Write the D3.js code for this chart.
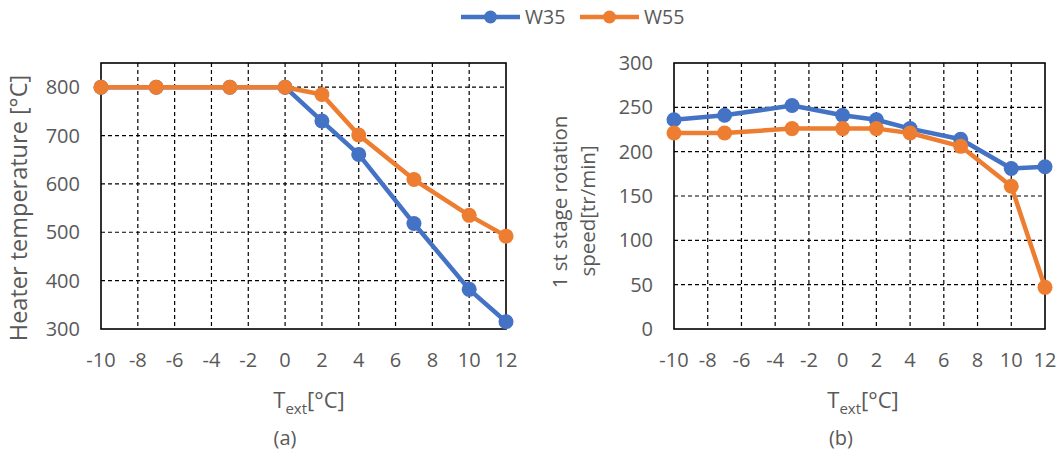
<!DOCTYPE html>
<html>
<head>
<meta charset="utf-8">
<script src="https://cdn.jsdelivr.net/npm/d3@7"></script>
<style>
  body { margin: 0; background: #fff; }
  text { font-family: "Open Sans", sans-serif; fill: #595959; }
</style>
</head>
<body>
<div id="chart"></div>
<script>
const W = 1062, H = 454;

// x values (outside temperature, °C)
const text = [-10, -7, -3, 0, 2, 4, 7, 10, 12];
const xTicks = [-10, -8, -6, -4, -2, 0, 2, 4, 6, 8, 10, 12];

// (a) heater temperature
const heaterW35 = [800, 800, 800, 800, 730, 661, 518, 382, 315];
const heaterW55 = [800, 800, 800, 800, 785, 701, 609, 535, 492];
const heaterTicks = [300, 400, 500, 600, 700, 800];

// (b) 1st stage rotation speed
const speedW35 = [236, 241, 252, 241, 236, 226, 214, 181, 183];
const speedW55 = [221, 221, 226, 226, 226, 221, 206, 161, 47];
const speedTicks = [0, 50, 100, 150, 200, 250, 300];

const series = ["W35", "W55"];
const colors = { W35: "#4472C4", W55: "#ED7D31" };

const svg = d3.select("#chart").append("svg")
  .attr("width", W)
  .attr("height", H);

function panel(opt) {
  const x = d3.scaleLinear().domain([-10, 12]).range([opt.x0, opt.x1]);
  const y = d3.scaleLinear().domain(opt.yDomain).range([opt.y1, opt.y0]);
  const g = svg.append("g");

  // dashed grid
  g.selectAll("line.vg")
    .data(xTicks.slice(1, -1))
    .enter().append("line")
    .attr("x1", d => x(d)).attr("x2", d => x(d))
    .attr("y1", opt.y0).attr("y2", opt.y1)
    .attr("stroke", "#000").attr("stroke-width", 1.2)
    .attr("stroke-dasharray", "4,3");
  g.selectAll("line.hg")
    .data(opt.yTicks.filter(d => d !== opt.yDomain[0] && d !== opt.yDomain[1]))
    .enter().append("line")
    .attr("x1", opt.x0).attr("x2", opt.x1)
    .attr("y1", d => y(d)).attr("y2", d => y(d))
    .attr("stroke", "#000").attr("stroke-width", 1.2)
    .attr("stroke-dasharray", "4,3");

  // frame
  g.append("rect")
    .attr("x", opt.x0).attr("y", opt.y0)
    .attr("width", opt.x1 - opt.x0).attr("height", opt.y1 - opt.y0)
    .attr("fill", "none").attr("stroke", "#000").attr("stroke-width", 1.6);

  // tick labels
  g.selectAll("text.xt")
    .data(xTicks)
    .enter().append("text")
    .attr("x", d => x(d)).attr("y", 367)
    .attr("text-anchor", "middle")
    .style("font-size", "20px")
    .text(d => d);
  g.selectAll("text.yt")
    .data(opt.yTicks)
    .enter().append("text")
    .attr("x", opt.x0 - 21).attr("y", d => y(d) + 7)
    .attr("text-anchor", "end")
    .style("font-size", "20px")
    .text(d => d);

  // lines
  const line = d3.line().x((d, i) => x(text[i])).y(d => y(d));
  series.forEach(s => {
    const vals = opt.data[s];
    g.append("path")
      .datum(vals)
      .attr("d", line)
      .attr("fill", "none")
      .attr("stroke", colors[s])
      .attr("stroke-width", 4.5)
      .attr("stroke-linejoin", "round");
    g.selectAll(null)
      .data(vals)
      .enter().append("circle")
      .attr("cx", (d, i) => x(text[i]))
      .attr("cy", d => y(d))
      .attr("r", 7.5)
      .attr("fill", colors[s]);
  });

  // x label
  const xl = g.append("text")
    .attr("x", opt.xLabelX).attr("y", 408)
    .attr("text-anchor", "middle")
    .style("font-size", "22px");
  xl.append("tspan").text("T");
  xl.append("tspan").attr("dy", 6).style("font-size", "15px").text("ext");
  xl.append("tspan").attr("dy", -6).text("[°C]");

  g.append("text")
    .attr("x", opt.capX).attr("y", 445)
    .attr("text-anchor", "middle")
    .style("font-size", "20px")
    .text(opt.caption);

  return { x, y, g };
}

const a = panel({
  x0: 101, x1: 506, y0: 63, y1: 329,
  yDomain: [300, 850], yTicks: heaterTicks,
  data: { W35: heaterW35, W55: heaterW55 },
  xLabelX: 309, capX: 285, caption: "(a)"
});
a.g.append("text")
  .attr("transform", "translate(27,208) rotate(-90)")
  .attr("text-anchor", "middle")
  .style("font-size", "23.5px")
  .text("Heater temperature [°C]");

const b = panel({
  x0: 674, x1: 1045, y0: 63, y1: 329,
  yDomain: [0, 300], yTicks: speedTicks,
  data: { W35: speedW35, W55: speedW55 },
  xLabelX: 863, capX: 841, caption: "(b)"
});
b.g.append("text")
  .attr("transform", "translate(567,202) rotate(-90)")
  .attr("text-anchor", "middle")
  .style("font-size", "20.5px")
  .text("1 st stage rotation");
b.g.append("text")
  .attr("transform", "translate(595,211) rotate(-90)")
  .attr("text-anchor", "middle")
  .style("font-size", "20.5px")
  .text("speed[tr/min]");

// legend
const legend = svg.append("g");
const legX = [461, 580];
series.forEach((s, i) => {
  const lx = legX[i];
  legend.append("line")
    .attr("x1", lx).attr("x2", lx + 59)
    .attr("y1", 17).attr("y2", 17)
    .attr("stroke", colors[s]).attr("stroke-width", 4.5);
  legend.append("circle")
    .attr("cx", lx + 29.5).attr("cy", 17).attr("r", 6.5)
    .attr("fill", colors[s]);
  legend.append("text")
    .attr("x", lx + 64).attr("y", 24)
    .style("font-size", "19.5px")
    .text(s);
});
</script>
</body>
</html>
